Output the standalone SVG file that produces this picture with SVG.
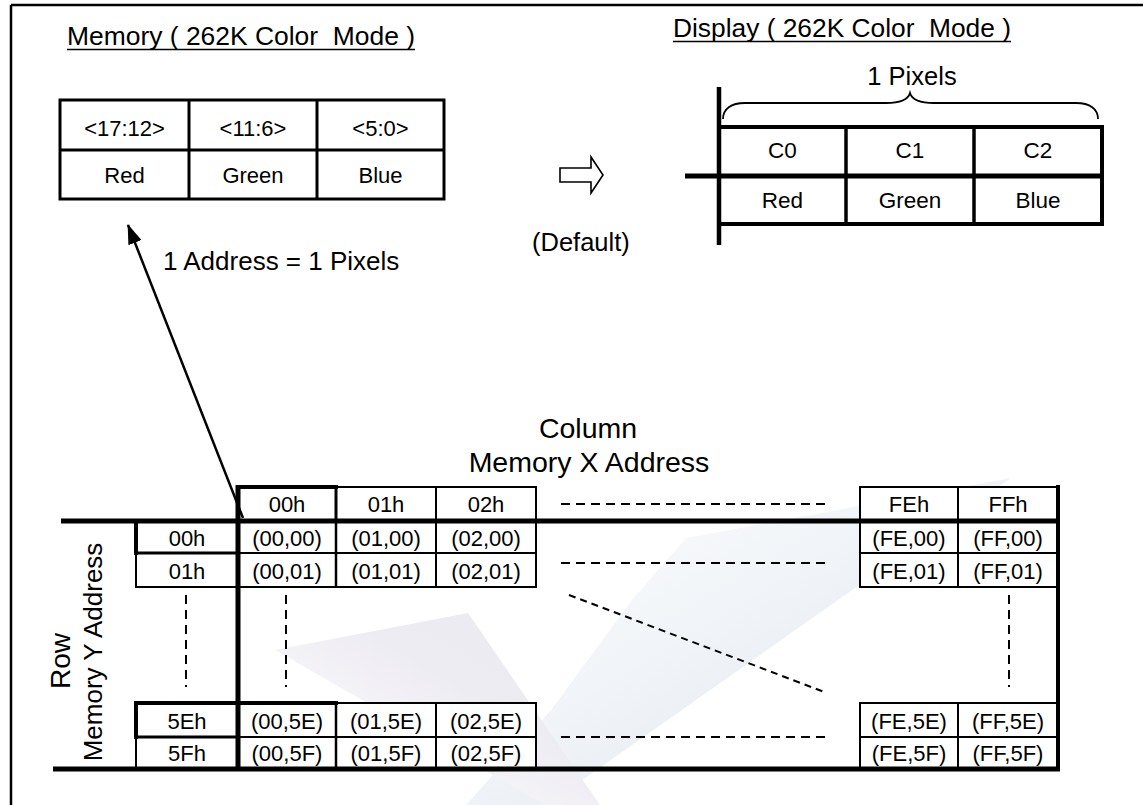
<svg xmlns="http://www.w3.org/2000/svg" width="1143" height="805" viewBox="0 0 1143 805">
<style>
.t{font-family:"Liberation Sans",Arial,sans-serif;fill:#000}
.c{text-anchor:middle}
.thin{stroke:#000;stroke-width:2;fill:none}
.cell{stroke:#000;stroke-width:2;fill:#fff}
.thick{stroke:#000;stroke-width:4;fill:none}
.dash{stroke:#000;stroke-width:2;stroke-dasharray:9 6;fill:none}
</style>
<defs>
<marker id="ah" viewBox="0 0 20 14" refX="19" refY="7" markerWidth="20" markerHeight="14" markerUnits="userSpaceOnUse" orient="auto">
<path d="M0,0 L20,7 L0,14 z" fill="#000"/>
</marker>
<linearGradient id="gBlue" x1="0" y1="0" x2="1" y2="1" gradientUnits="objectBoundingBox">
<stop offset="0" stop-color="#ffffff"/>
<stop offset="0.55" stop-color="#edf1f6"/>
<stop offset="1" stop-color="#eaf0f5"/>
</linearGradient>
<linearGradient id="gLav" x1="0" y1="1" x2="1" y2="0" gradientUnits="objectBoundingBox">
<stop offset="0" stop-color="#ffffff"/>
<stop offset="0.6" stop-color="#eeecf3"/>
<stop offset="1" stop-color="#ebe9f1"/>
</linearGradient>
</defs>
<rect width="1143" height="805" fill="#fff"/>
<g id="watermark">
<polygon points="1011,478 686,538 632,600 551,710 466,805 547,805 838,600" fill="url(#gBlue)"/>
<polygon points="275,650 468,613 600,805 545,805" fill="url(#gLav)"/>
</g>
<g id="frame">
<line x1="11" y1="5" x2="1143" y2="5" stroke="#000" stroke-width="2.5"/>
<line x1="11" y1="5" x2="11" y2="805" stroke="#000" stroke-width="2.5"/>
</g>
<g id="memory-title">
<text class="t" x="67" y="45" font-size="26" textLength="348" lengthAdjust="spacingAndGlyphs" xml:space="preserve">Memory ( 262K Color  Mode )</text>
<line x1="67" y1="49.5" x2="415" y2="49.5" stroke="#000" stroke-width="1.5"/>
</g>
<g id="memory-table">
<rect x="60" y="100" width="384" height="99" fill="#fff" stroke="#000" stroke-width="3"/>
<line x1="60" y1="150" x2="444" y2="150" stroke="#000" stroke-width="3"/>
<line x1="189" y1="100" x2="189" y2="199" stroke="#000" stroke-width="3"/>
<line x1="317" y1="100" x2="317" y2="199" stroke="#000" stroke-width="3"/>
<text class="t c" x="124.5" y="136" font-size="22">&lt;17:12&gt;</text>
<text class="t c" x="253" y="136" font-size="22">&lt;11:6&gt;</text>
<text class="t c" x="380.5" y="136" font-size="22">&lt;5:0&gt;</text>
<text class="t c" x="124.5" y="183" font-size="22">Red</text>
<text class="t c" x="253" y="183" font-size="22">Green</text>
<text class="t c" x="380.5" y="183" font-size="22">Blue</text>
</g>
<g id="address-label">
<text class="t" x="163" y="270" font-size="26">1 Address = 1 Pixels</text>
</g>
<g id="default-arrow">
<polygon points="560,168 591,168 591,157 603,175 591,193 591,182 560,182" fill="#fff" stroke="#000" stroke-width="1.6" stroke-linejoin="miter"/>
<text class="t" x="532" y="251" font-size="25.5">(Default)</text>
</g>
<g id="display-title">
<text class="t" x="673" y="37" font-size="26" textLength="338" lengthAdjust="spacingAndGlyphs" xml:space="preserve">Display ( 262K Color  Mode )</text>
<line x1="673" y1="41.5" x2="1011" y2="41.5" stroke="#000" stroke-width="1.5"/>
</g>
<g id="display-table">
<text class="t c" x="912" y="85" font-size="25.5">1 Pixels</text>
<path d="M723,119 C723,109 731,103 745,103 L886,103 C900,103 908,100 910,93 C912,100 920,103 934,103 L1076,103 C1090,103 1098,109 1098,119" fill="none" stroke="#000" stroke-width="1.8"/>
<line x1="719" y1="87" x2="719" y2="245" stroke="#000" stroke-width="4.5"/>
<line x1="685" y1="176" x2="1104" y2="176" stroke="#000" stroke-width="5"/>
<line x1="719" y1="127" x2="1104" y2="127" stroke="#000" stroke-width="4"/>
<line x1="719" y1="224" x2="1104" y2="224" stroke="#000" stroke-width="4"/>
<line x1="1102" y1="125" x2="1102" y2="226" stroke="#000" stroke-width="4"/>
<line x1="846" y1="127" x2="846" y2="224" stroke="#000" stroke-width="3.5"/>
<line x1="974" y1="127" x2="974" y2="224" stroke="#000" stroke-width="3.5"/>
<text class="t c" x="782.5" y="158" font-size="22.5">C0</text>
<text class="t c" x="910" y="158" font-size="22.5">C1</text>
<text class="t c" x="1038" y="158" font-size="22.5">C2</text>
<text class="t c" x="782.5" y="208" font-size="22.5">Red</text>
<text class="t c" x="910" y="208" font-size="22.5">Green</text>
<text class="t c" x="1038" y="208" font-size="22.5">Blue</text>
</g>
<g id="column-label">
<text class="t c" x="588" y="438" font-size="28.5">Column</text>
<text class="t c" x="589" y="472" font-size="28.5">Memory X Address</text>
</g>
<g id="row-label">
<text class="t c" transform="translate(70,661) rotate(-90)" font-size="28">Row</text>
<text class="t c" transform="translate(102,652) rotate(-90)" font-size="26">Memory Y Address</text>
</g>
<g id="grid-table">
<rect class="cell" x="238" y="487" width="98" height="33"/>
<rect class="cell" x="336" y="487" width="100" height="33"/>
<rect class="cell" x="436" y="487" width="100" height="33"/>
<rect class="cell" x="860" y="487" width="98" height="33"/>
<rect class="cell" x="958" y="487" width="100" height="33"/>
<rect class="cell" x="136" y="521" width="102" height="32"/>
<rect class="cell" x="238" y="521" width="98" height="32"/>
<rect class="cell" x="336" y="521" width="100" height="32"/>
<rect class="cell" x="436" y="521" width="100" height="32"/>
<rect class="cell" x="860" y="521" width="98" height="32"/>
<rect class="cell" x="958" y="521" width="100" height="32"/>
<rect class="cell" x="136" y="553" width="102" height="34"/>
<rect class="cell" x="238" y="553" width="98" height="34"/>
<rect class="cell" x="336" y="553" width="100" height="34"/>
<rect class="cell" x="436" y="553" width="100" height="34"/>
<rect class="cell" x="860" y="553" width="98" height="34"/>
<rect class="cell" x="958" y="553" width="100" height="34"/>
<rect class="cell" x="136" y="703" width="102" height="34"/>
<rect class="cell" x="238" y="703" width="98" height="34"/>
<rect class="cell" x="336" y="703" width="100" height="34"/>
<rect class="cell" x="436" y="703" width="100" height="34"/>
<rect class="cell" x="860" y="703" width="98" height="34"/>
<rect class="cell" x="958" y="703" width="100" height="34"/>
<rect class="cell" x="136" y="737" width="102" height="32"/>
<rect class="cell" x="238" y="737" width="98" height="32"/>
<rect class="cell" x="336" y="737" width="100" height="32"/>
<rect class="cell" x="436" y="737" width="100" height="32"/>
<rect class="cell" x="860" y="737" width="98" height="32"/>
<rect class="cell" x="958" y="737" width="100" height="32"/>
<line x1="236" y1="487" x2="338" y2="487" stroke="#000" stroke-width="4"/>
<line x1="336" y1="487" x2="336" y2="521" stroke="#000" stroke-width="3"/>
<line x1="336" y1="521" x2="336" y2="587" stroke="#000" stroke-width="2.5"/>
<line x1="336" y1="703" x2="336" y2="769" stroke="#000" stroke-width="2.5"/>
<line x1="136" y1="519" x2="136" y2="555" stroke="#000" stroke-width="4"/>
<line x1="134" y1="553" x2="238" y2="553" stroke="#000" stroke-width="3"/>
<line x1="134" y1="703" x2="338" y2="703" stroke="#000" stroke-width="4"/>
<line x1="136" y1="701" x2="136" y2="739" stroke="#000" stroke-width="4"/>
<line x1="134" y1="737" x2="238" y2="737" stroke="#000" stroke-width="3"/>
<line x1="238" y1="485" x2="238" y2="771" stroke="#000" stroke-width="5"/>
<line x1="1058" y1="485" x2="1058" y2="771" stroke="#000" stroke-width="4"/>
<line x1="61" y1="521" x2="1060" y2="521" stroke="#000" stroke-width="5"/>
<line x1="53" y1="769" x2="1060" y2="769" stroke="#000" stroke-width="5"/>
<text class="t c" x="287" y="512" font-size="22">00h</text>
<text class="t c" x="386" y="512" font-size="22">01h</text>
<text class="t c" x="486" y="512" font-size="22">02h</text>
<text class="t c" x="909" y="512" font-size="22">FEh</text>
<text class="t c" x="1008" y="512" font-size="22">FFh</text>
<text class="t c" x="187" y="546" font-size="22">00h</text>
<text class="t c" x="287" y="546" font-size="22">(00,00)</text>
<text class="t c" x="386" y="546" font-size="22">(01,00)</text>
<text class="t c" x="486" y="546" font-size="22">(02,00)</text>
<text class="t c" x="909" y="546" font-size="22">(FE,00)</text>
<text class="t c" x="1008" y="546" font-size="22">(FF,00)</text>
<text class="t c" x="187" y="579" font-size="22">01h</text>
<text class="t c" x="287" y="579" font-size="22">(00,01)</text>
<text class="t c" x="386" y="579" font-size="22">(01,01)</text>
<text class="t c" x="486" y="579" font-size="22">(02,01)</text>
<text class="t c" x="909" y="579" font-size="22">(FE,01)</text>
<text class="t c" x="1008" y="579" font-size="22">(FF,01)</text>
<text class="t c" x="187" y="729" font-size="22">5Eh</text>
<text class="t c" x="287" y="729" font-size="22">(00,5E)</text>
<text class="t c" x="386" y="729" font-size="22">(01,5E)</text>
<text class="t c" x="486" y="729" font-size="22">(02,5E)</text>
<text class="t c" x="909" y="729" font-size="22">(FE,5E)</text>
<text class="t c" x="1008" y="729" font-size="22">(FF,5E)</text>
<text class="t c" x="187" y="761" font-size="22">5Fh</text>
<text class="t c" x="287" y="761" font-size="22">(00,5F)</text>
<text class="t c" x="386" y="761" font-size="22">(01,5F)</text>
<text class="t c" x="486" y="761" font-size="22">(02,5F)</text>
<text class="t c" x="909" y="761" font-size="22">(FE,5F)</text>
<text class="t c" x="1008" y="761" font-size="22">(FF,5F)</text>
</g>
<g id="ellipsis">
<line class="dash" x1="561" y1="504" x2="828" y2="504"/>
<line class="dash" x1="561" y1="563" x2="828" y2="563"/>
<line class="dash" x1="561" y1="737" x2="828" y2="737"/>
<line class="dash" x1="569" y1="595" x2="827" y2="693" style="stroke-dasharray:7 5"/>
<line class="dash" x1="186" y1="595" x2="186" y2="687"/>
<line class="dash" x1="286" y1="595" x2="286" y2="687"/>
<line class="dash" x1="1009" y1="595" x2="1009" y2="687"/>
</g>
<g id="connectors">
<line x1="243" y1="518" x2="128" y2="225" stroke="#000" stroke-width="2.5" marker-end="url(#ah)"/>
</g>
</svg>
